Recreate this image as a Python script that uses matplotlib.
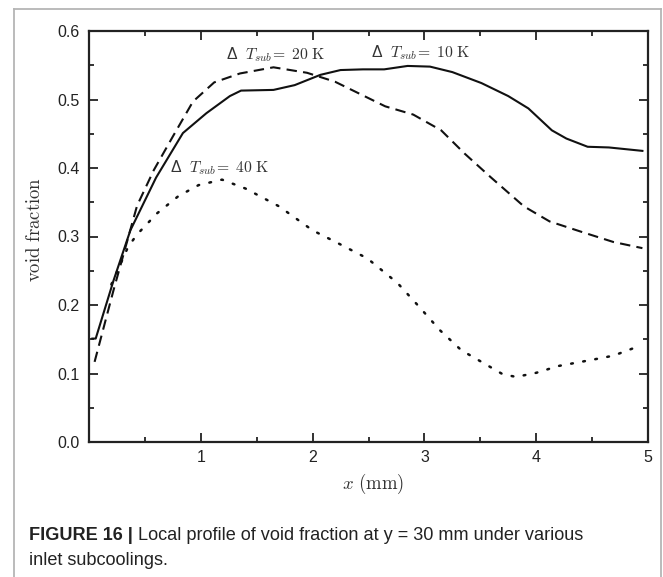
import matplotlib
matplotlib.use("Agg")
import matplotlib.pyplot as plt
from matplotlib.lines import Line2D

plt.rcParams['mathtext.fontset'] = 'cm'
plt.rcParams['font.family'] = ['Liberation Sans', 'DejaVu Sans']

# ---- data ----
x_10K = [0.03, 0.06, 0.22, 0.37, 0.60, 0.84, 1.05, 1.26, 1.36, 1.65, 1.84, 2.07, 2.25, 2.45,
         2.64, 2.85, 3.05, 3.25, 3.51, 3.75, 3.93, 4.14, 4.27, 4.46, 4.65, 4.95]
y_10K = [0.151, 0.151, 0.236, 0.309, 0.386, 0.451, 0.480, 0.505, 0.513, 0.514, 0.521, 0.536, 0.543, 0.544,
         0.544, 0.549, 0.548, 0.540, 0.524, 0.505, 0.487, 0.455, 0.443, 0.431, 0.430, 0.425]

x_20K = [0.05, 0.22, 0.43, 0.58, 0.75, 0.93, 1.12, 1.35, 1.65, 1.95, 2.20, 2.45, 2.65, 2.90,
         3.15, 3.36, 3.59, 3.89, 4.12, 4.42, 4.69, 4.95]
y_20K = [0.117, 0.222, 0.345, 0.397, 0.446, 0.497, 0.525, 0.538, 0.547, 0.539, 0.526, 0.506, 0.490, 0.478,
         0.455, 0.421, 0.387, 0.344, 0.322, 0.306, 0.292, 0.283]

x_40K = [0.20, 0.35, 0.43, 0.61, 0.80, 0.98, 1.19, 1.40, 1.70, 2.00, 2.23, 2.49, 2.76, 2.95,
         3.14, 3.33, 3.51, 3.70, 3.82, 4.00, 4.20, 4.50, 4.69, 4.92]
y_40K = [0.230, 0.285, 0.303, 0.334, 0.359, 0.375, 0.383, 0.370, 0.344, 0.309, 0.290, 0.268, 0.232, 0.198,
         0.163, 0.134, 0.117, 0.099, 0.095, 0.101, 0.111, 0.120, 0.126, 0.140]

labels = [r"Δ  $T_{sub}\!=\ 10\ \mathrm{K}$",
          r"Δ  $T_{sub}\!=\ 20\ \mathrm{K}$",
          r"Δ  $T_{sub}\!=\ 40\ \mathrm{K}$"]
label_pos = [(2.97, 0.568), (1.67, 0.565), (1.17, 0.40)]

xticks = [1, 2, 3, 4, 5]
yticks = [0.0, 0.1, 0.2, 0.3, 0.4, 0.5, 0.6]

caption_bold = "FIGURE 16 |"
caption_rest = " Local profile of void fraction at y = 30 mm under various"
caption_line2 = "inlet subcoolings."

# ---- figure ----
W, H = 663, 577
fig = plt.figure(figsize=(W / 100, H / 100), dpi=100)
ax = fig.add_axes([89 / W, 1 - 442 / H, (648 - 89) / W, (442 - 31) / H])

ax.plot(x_10K, y_10K, color='#111111', lw=1.5, ls='-')
ax.plot(x_20K, y_20K, color='#111111', lw=1.5, ls=(0, (5, 3)))
ax.plot(x_40K, y_40K, color='#111111', lw=1.8, ls=(0, (0.7, 4.2)), dash_capstyle='round')

for lab, (lx, ly) in zip(labels, label_pos):
    ax.text(lx, ly, lab, ha='center', va='center', fontsize=11.3, color='#333333')

ax.set_xlim(0, 5)
ax.set_ylim(0, 0.6)
ax.set_xticks(xticks)
ax.set_xticklabels([str(t) for t in xticks])
ax.set_xticks([0.5, 1.5, 2.5, 3.5, 4.5], minor=True)
ax.set_yticks(yticks)
ax.set_yticklabels([f"{t:.1f}" for t in yticks])
ax.set_yticks([0.05, 0.15, 0.25, 0.35, 0.45, 0.55], minor=True)
ax.tick_params(which='both', direction='in', top=True, right=True, width=1.3, colors='#222222',
               labelcolor='#222222', labelsize=11.5)
ax.tick_params(which='major', length=6.5)
ax.tick_params(which='minor', length=3.8)
ax.tick_params(axis='y', pad=6.5)
ax.tick_params(axis='x', pad=5.5)
for s in ax.spines.values():
    s.set_linewidth(1.6)
    s.set_color('#222222')

ax.set_ylabel(r"$\mathrm{void\ fraction}$", fontsize=13.5, color='#333333')
ax.yaxis.set_label_coords(-0.080, 0.517)
ax.set_xlabel(r"$x\ (\mathrm{mm})$", fontsize=13.5, color='#333333')
ax.xaxis.set_label_coords(0.508, -0.072)

# grey frame
fc = '#b5b5b5'
fig.add_artist(Line2D([13.5 / W, 13.5 / W], [0, 1 - 9 / H], transform=fig.transFigure, color=fc, lw=1.3))
fig.add_artist(Line2D([13.5 / W, 661 / W], [1 - 9 / H, 1 - 9 / H], transform=fig.transFigure, color=fc, lw=1.3))
fig.add_artist(Line2D([661 / W, 661 / W], [0, 1 - 9 / H], transform=fig.transFigure, color=fc, lw=1.3))

# caption
fs_cap = 13.1
t1 = fig.text(29 / W, 1 - 540 / H, caption_bold, fontsize=fs_cap, fontweight='bold', color='#222222',
              ha='left', va='baseline')
r = fig.canvas.get_renderer()
bb = t1.get_window_extent(renderer=r)
fig.text(bb.x1 / W, 1 - 540 / H, caption_rest, fontsize=fs_cap, color='#222222', ha='left', va='baseline')
fig.text(29 / W, 1 - 565 / H, caption_line2, fontsize=fs_cap, color='#222222', ha='left', va='baseline')

fig.savefig("out.png", dpi=100)
